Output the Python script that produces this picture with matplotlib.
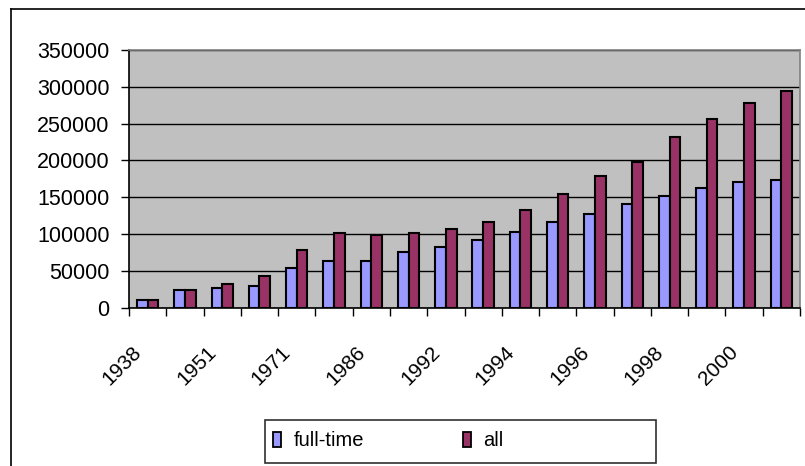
import numpy as np
import matplotlib
matplotlib.use("Agg")
import matplotlib.pyplot as plt
from matplotlib import transforms
from matplotlib.lines import Line2D
from matplotlib.patches import Rectangle, Patch

years = ["1938", "1948", "1951", "1961", "1971", "1981", "1986", "1990", "1992",
         "1993", "1994", "1995", "1996", "1997", "1998", "1999", "2000", "2001"]
full_time = [10000, 24000, 26500, 28800, 53800, 62700, 62700, 75500, 81800,
             91700, 102600, 116300, 127200, 140400, 151400, 162800, 170500, 173300]
all_ = [10000, 24000, 31800, 42700, 78600, 101400, 98200, 101400, 106400,
        116300, 132700, 154100, 178700, 197900, 231600, 255800, 278200, 294100]
y_ticks = [0, 50000, 100000, 150000, 200000, 250000, 300000, 350000]
series_names = ["full-time", "all"]

FONT = "Liberation Sans"
plt.rcParams['font.family'] = [FONT, 'DejaVu Sans']

W, H = 805, 466
fig = plt.figure(figsize=(W / 100, H / 100), dpi=100)
fig.patch.set_facecolor("white")

def fx(px):
    return px / W

def fy(py):
    return 1 - py / H

left, right, top, bottom = 129, 800, 50, 307.5
ax = fig.add_axes([fx(left), fy(bottom), (right - left) / W, (bottom - top) / H])
ax.set_facecolor("#C0C0C0")

n = len(years)
x = np.arange(n)
bw = 0.286
ax.bar(x - bw / 2, full_time, width=bw, color="#9999FF", edgecolor="black",
       linewidth=1.5, zorder=3)
ax.bar(x + bw / 2, all_, width=bw, color="#993366", edgecolor="black",
       linewidth=1.5, zorder=3)

ax.set_xlim(-0.5, n - 0.5)
ax.set_ylim(0, 350000)
ax.set_yticks(y_ticks)
ax.set_yticklabels([str(v) for v in y_ticks], fontsize=15.5)
ax.yaxis.grid(True, color="black", linewidth=1.0, zorder=1)
ax.set_axisbelow(True)

ax.set_xticks(np.arange(n + 1) - 0.5)
ax.set_xticklabels([])
ax.tick_params(axis="x", direction="out", length=5.5, width=1.0, color="black")
ax.tick_params(axis="y", direction="out", length=6, width=1.0, color="black", pad=8)

for s in ["top", "right"]:
    ax.spines[s].set_color("#808080")
    ax.spines[s].set_linewidth(1.2)
for s in ["left", "bottom"]:
    ax.spines[s].set_color("black")
    ax.spines[s].set_linewidth(1.2)

# category labels (every other one, as in the reference)
trans = transforms.blended_transform_factory(ax.transData, ax.transAxes) + \
    transforms.ScaledTranslation(-9 / 100, -42 / 100, fig.dpi_scale_trans)
for i, yr in enumerate(years):
    if i % 2 == 0:
        ax.text(i, 0, yr, transform=trans, rotation=45, rotation_mode="anchor",
                ha="right", va="center", fontsize=15, color="black")

# legend
handles = [Patch(facecolor="#9999FF", edgecolor="black", linewidth=1.3),
           Patch(facecolor="#993366", edgecolor="black", linewidth=1.3)]
leg = fig.legend(handles, series_names, loc="center left",
                 bbox_to_anchor=(fx(273), fy(441)), ncol=2, frameon=False,
                 fontsize=14.5, handlelength=0.42, handleheight=0.75,
                 handletextpad=0.6, columnspacing=4.9, borderpad=0.0,
                 borderaxespad=0.0)
fig.add_artist(Rectangle((fx(265), fy(463)), (656 - 265) / W, (463 - 420) / H,
                         transform=fig.transFigure, facecolor="none",
                         edgecolor="#303030", linewidth=1.2))

# chart border (left and top, rest is cropped)
fig.add_artist(Line2D([fx(11), fx(11)], [fy(9), 0], transform=fig.transFigure,
                      color="black", linewidth=1.2))
fig.add_artist(Line2D([fx(11), 1], [fy(9), fy(9)], transform=fig.transFigure,
                      color="black", linewidth=1.2))

fig.savefig("out.png", dpi=100)
